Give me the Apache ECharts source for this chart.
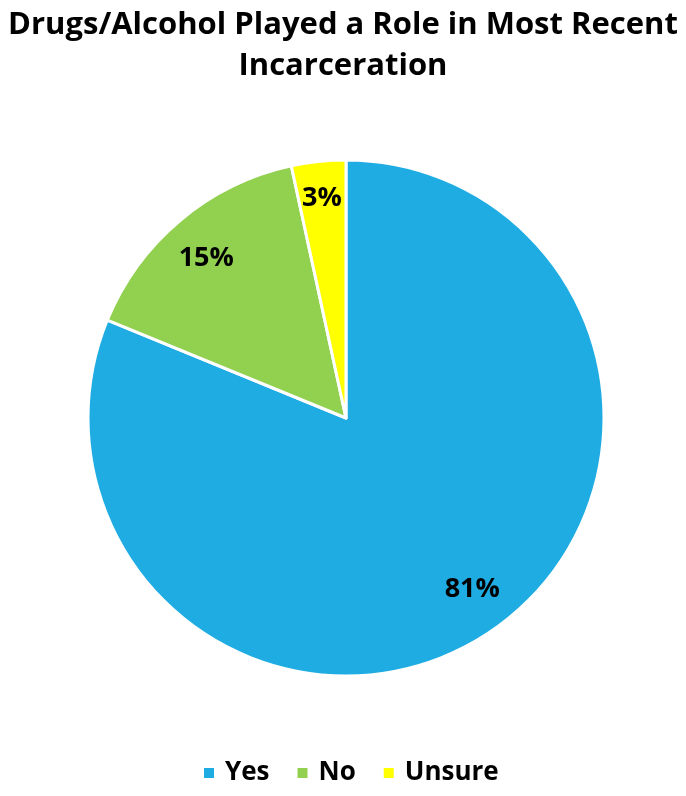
<!DOCTYPE html>
<html><head><meta charset="utf-8">
<script src="https://cdn.jsdelivr.net/npm/echarts@6/dist/echarts.min.js"></script>
<style>html,body{margin:0;padding:0;background:#fff}#c{width:686px;height:796px}</style>
</head><body><div id="c"></div>
<script>
const titleText = 'Drugs/Alcohol Played a Role in Most Recent\nIncarceration';
const categories = ['Yes', 'No', 'Unsure'];
const values = [81.2, 15.4, 3.4];
const colors = ['#1FACE3', '#92D050', '#FFFF00'];
const labelOffsets = [[6, -8], [-1, 6], [-1, -5]];

const data = categories.map((n, i) => ({name: n, value: values[i], itemStyle: {color: colors[i]}}));
const FONT = '"Open Sans", Lato, sans-serif';
const chart = echarts.init(document.getElementById('c'));
chart.setOption({
  backgroundColor: '#fff',
  animation: false,
  title: {
    text: titleText, left: 'center', top: 0,
    textStyle: {fontFamily: FONT, fontWeight: 'bold', fontSize: 31, lineHeight: 41, color: '#000'}
  },
  legend: {
    data: categories, bottom: 5, left: 197,
    itemWidth: 12, itemHeight: 12, itemGap: 26, icon: 'rect',
    textStyle: {fontFamily: FONT, fontWeight: 'bold', fontSize: 26, color: '#000', padding: [0, 0, 0, 5]}
  },
  series: [{
    type: 'pie', name: 'main', center: [346, 418], radius: [0, 258],
    startAngle: 90, clockwise: true, silent: true,
    itemStyle: {borderColor: '#fff', borderWidth: 3},
    label: {show: false}, labelLine: {show: false},
    data: data
  }, {
    type: 'pie', name: 'labels', center: [346, 418], radius: [170, 256],
    startAngle: 90, clockwise: true, silent: true,
    itemStyle: {color: 'rgba(0,0,0,0)', borderWidth: 0},
    labelLine: {show: false},
    label: {show: true, position: 'inside', fontFamily: FONT, fontWeight: 'bold', fontSize: 27, color: '#000',
      formatter: p => Math.round(p.value) + '%'},
    data: categories.map((n, i) => ({name: n, value: values[i], itemStyle: {color: 'rgba(0,0,0,0)'},
      label: {offset: labelOffsets[i]}}))
  }]
});
</script></body></html>
